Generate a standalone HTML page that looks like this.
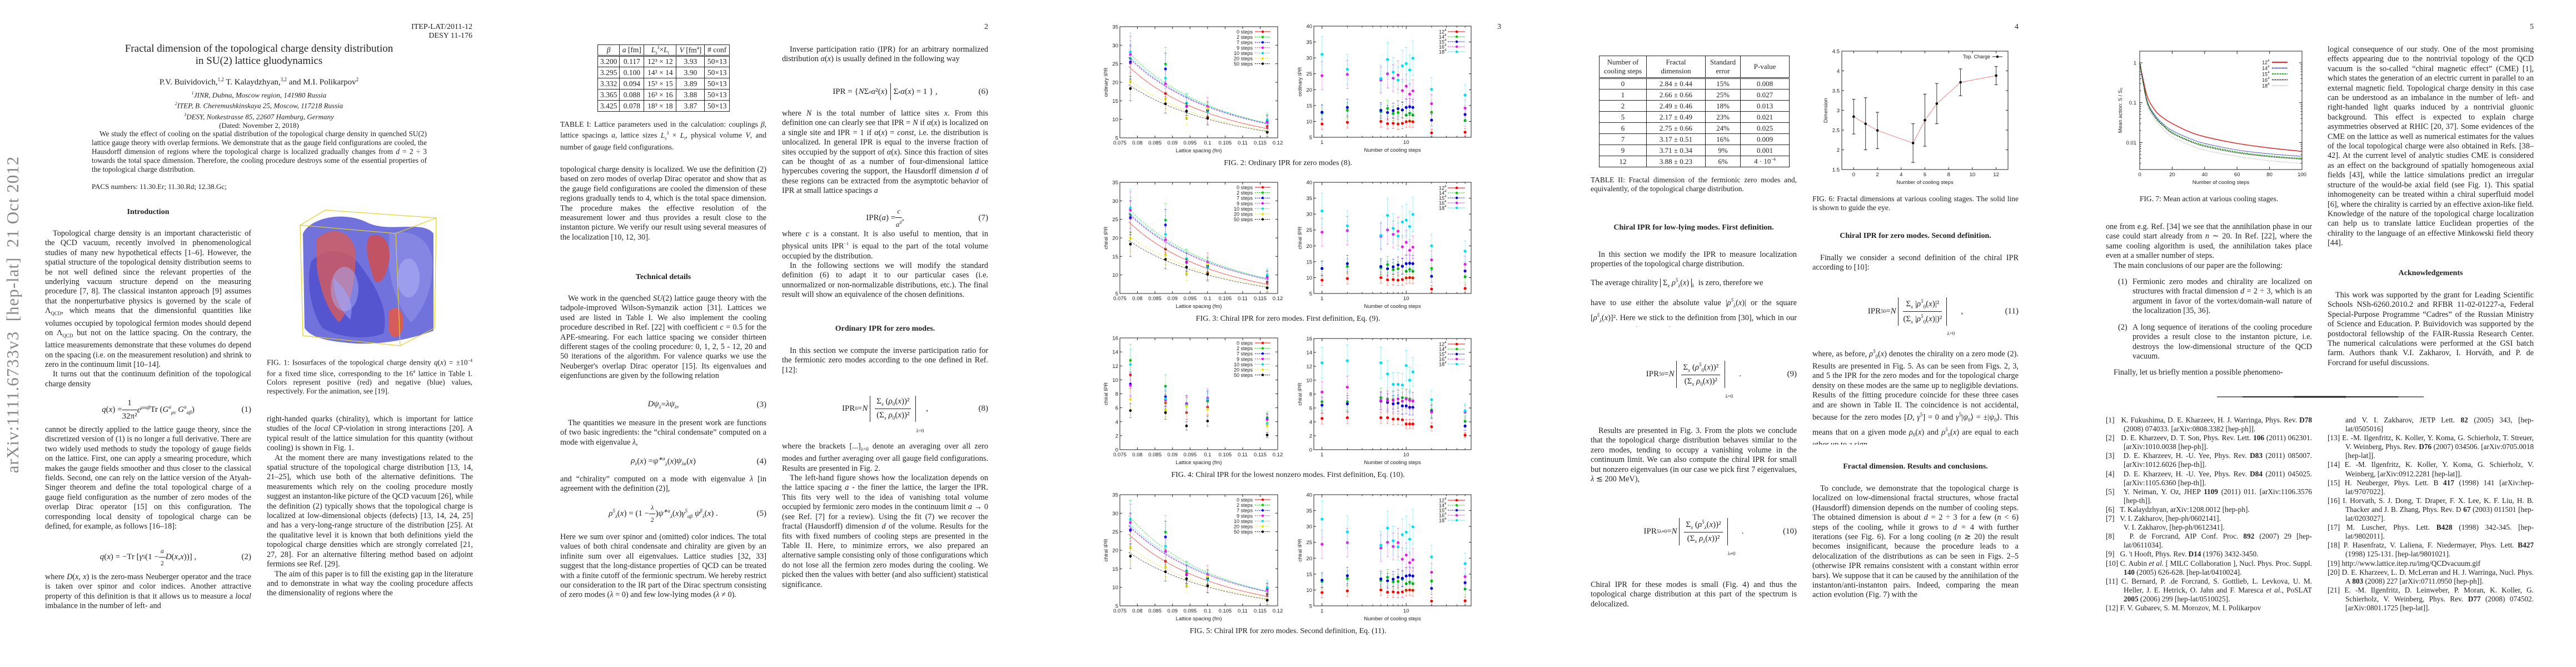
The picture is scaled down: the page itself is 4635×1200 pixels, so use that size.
<!DOCTYPE html>
<html><head><meta charset="utf-8">
<style>
html,body{margin:0;padding:0;background:#fff;}
body{width:4635px;height:1200px;position:relative;overflow:hidden;font-family:"Liberation Serif",serif;color:#222;}
.t{position:absolute;font-size:14.3px;line-height:17.4px;text-align:justify;overflow:hidden;}
.c{width:371px;}
.ind{text-indent:14px;margin:0;}
p{margin:0;}
.h{position:absolute;font-weight:bold;font-size:14px;text-align:center;width:371px;}
.cap{position:absolute;font-size:13.5px;line-height:16px;text-align:justify;}
.eq{position:absolute;width:371px;height:40px;font-size:15px;display:flex;align-items:center;justify-content:center;}
.eqn{position:absolute;right:0;}
.br{border-left:1.5px solid #222;border-right:1.5px solid #222;padding:2px 8px;display:inline-block;text-align:center;position:relative;}
.fr{display:inline-block;text-align:center;vertical-align:middle;}
.fr .n{border-bottom:1px solid #222;padding:0 3px 3px;}
.fr .d{padding-top:3px;}
table.tb{position:absolute;border-collapse:collapse;font-size:13.5px;}
table.tb td{border:1.3px solid #222;text-align:center;padding:0;}
.ref{position:absolute;font-size:13.3px;line-height:16.1px;width:371px;text-align:justify;}
.ref div{padding-left:32px;text-indent:-32px;}
</style></head><body>

<!-- ============== PAGE 1 ============== -->
<div style="position:absolute;left:23px;top:566px;width:0;height:0;">
<div style="position:absolute;left:0;top:0;transform:translate(-50%,-50%) rotate(-90deg);white-space:nowrap;font-size:31px;color:#888;letter-spacing:1px;">arXiv:1111.6733v3&nbsp; [hep-lat]&nbsp; 21 Oct 2012</div></div>

<div style="position:absolute;left:700px;top:41px;width:150px;text-align:right;font-size:14px;line-height:16px;">ITEP-LAT/2011-12<br>DESY 11-176</div>
<div style="position:absolute;left:150px;top:77px;width:632px;text-align:center;font-size:19px;line-height:22px;">Fractal dimension of the topological charge density distribution<br>in SU(2) lattice gluodynamics</div>
<div style="position:absolute;left:150px;top:138px;width:632px;text-align:center;font-size:15px;">P.V. Buividovich,<sup style="font-size:9px">1,2</sup> T. Kalaydzhyan,<sup style="font-size:9px">3,2</sup> and M.I. Polikarpov<sup style="font-size:9px">2</sup></div>
<div style="position:absolute;left:150px;top:160px;width:632px;text-align:center;font-size:13px;line-height:16px;font-style:italic;"><sup style="font-size:8px">1</sup>JINR, Dubna, Moscow region, 141980 Russia<br><sup style="font-size:8px">2</sup>ITEP, B. Cheremushkinskaya 25, Moscow, 117218 Russia<br><sup style="font-size:8px">3</sup>DESY, Notkestrasse 85, 22607 Hamburg, Germany<br><span style="font-style:normal">(Dated: November 2, 2018)</span></div>
<div class="t" style="left:165px;top:233px;width:603px;font-size:13.3px;line-height:16px;"><p class="ind">We study the effect of cooling on the spatial distribution of the topological charge density in quenched SU(2) lattice gauge theory with overlap fermions. We demonstrate that as the gauge field configurations are cooled, the Hausdorff dimension of regions where the topological charge is localized gradually changes from <i>d</i> = 2 ÷ 3 towards the total space dimension. Therefore, the cooling procedure destroys some of the essential properties of the topological charge distribution.</p></div>
<div style="position:absolute;left:165px;top:328px;font-size:13px;">PACS numbers: 11.30.Er; 11.30.Rd; 12.38.Gc;</div>
<div class="h" style="left:81px;top:374px;">Introduction</div>

<div class="t c" style="left:81px;top:412px;height:297px;"><p class="ind">Topological charge density is an important characteristic of the QCD vacuum, recently involved in phenomenological studies of many new hypothetical effects [1–6]. However, the spatial structure of the topological density distribution seems to be not well defined since the relevant properties of the underlying vacuum structure depend on the measuring procedure [7, 8]. The classical instanton approach [9] assumes that the nonperturbative physics is governed by the scale of Λ<sub style="font-size:9px">QCD</sub>, which means that the dimensionful quantities like volumes occupied by topological fermion modes should depend on Λ<sub style="font-size:9px">QCD</sub> but not on the lattice spacing. On the contrary, the lattice measurements demonstrate that these volumes do depend on the spacing (i.e. on the measurement resolution) and shrink to zero in the continuum limit [10–14].</p><p class="ind">It turns out that the continuum definition of the topological charge density</p></div>
<div class="eq" style="left:81px;top:717px;"><i>q</i>(<i>x</i>) = <span class="fr"><div class="n">1</div><div class="d">32π²</div></span><i>ε<sup style="font-size:9px">μναβ</sup></i> Tr (<i>G<sup style="font-size:9px">a</sup><sub style="font-size:9px">μν</sub> G<sup style="font-size:9px">a</sup><sub style="font-size:9px">αβ</sub></i>)<span class="eqn">(1)</span></div>
<div class="t c" style="left:81px;top:765px;height:210px;"><p>cannot be directly applied to the lattice gauge theory, since the discretized version of (1) is no longer a full derivative. There are two widely used methods to study the topology of gauge fields on the lattice. First, one can apply a smearing procedure, which makes the gauge fields smoother and thus closer to the classical fields. Second, one can rely on the lattice version of the Atyah-Singer theorem and define the total topological charge of a gauge field configuration as the number of zero modes of the overlap Dirac operator [15] on this configuration. The corresponding local density of topological charge can be defined, for example, as follows [16–18]:</p></div>
<div class="eq" style="left:81px;top:982px;"><i>q</i>(<i>x</i>) = −Tr [<i>γ</i><sub style="font-size:9px">5</sub> (1 − <span class="fr" style="font-size:12px"><div class="n"><i>a</i></div><div class="d">2</div></span><i>D</i>(<i>x</i>, <i>x</i>))] ,<span class="eqn">(2)</span></div>
<div class="t c" style="left:81px;top:1030px;height:70px;"><p>where <i>D</i>(<i>x</i>, <i>x</i>) is the zero-mass Neuberger operator and the trace is taken over spinor and color indices. Another attractive property of this definition is that it allows us to measure a <i>local</i> imbalance in the number of left- and</p></div>

<svg style="position:absolute;left:530px;top:365px;" width="265" height="262" viewBox="530 365 265 262">
<g opacity="0.85">
<path d="M545 420 C560 390 620 380 660 400 C700 420 760 395 780 420 L780 595 C740 610 690 620 640 618 C600 615 560 610 548 590 Z" fill="#5a5ad8"/>
<path d="M560 470 C590 440 630 450 650 480 C680 520 700 560 690 600 C660 612 610 608 580 590 C560 560 550 510 560 470Z" fill="#3838c8"/>
<path d="M700 420 C740 410 775 430 778 470 C780 520 760 560 740 580 C720 560 705 520 700 480Z" fill="#7070e0"/>
<path d="M570 430 C600 400 640 420 640 460 C640 500 630 560 610 580 C590 560 575 520 570 480Z" fill="#d04040" opacity="0.8"/>
<path d="M665 425 C690 415 705 440 700 470 C695 500 680 520 672 500 C662 470 655 440 665 425Z" fill="#c83030" opacity="0.85"/>
<path d="M700 560 C715 545 730 560 725 590 C720 610 705 612 700 595Z" fill="#d04040"/>
<path d="M600 500 C620 520 640 540 630 575 C615 560 600 540 600 500Z" fill="#8080ee" opacity="0.7"/>
<ellipse cx="620" cy="520" rx="25" ry="40" fill="#a0a0f0" opacity="0.5"/>
<ellipse cx="735" cy="500" rx="20" ry="35" fill="#a8a8f4" opacity="0.5"/>
</g>
<path d="M540 405 L585 378 L785 392 L782 590 L720 622 L545 604 Z M540 405 L712 420 L785 392 M712 420 L720 622" fill="none" stroke="#e0d020" stroke-width="1.2"/>
</svg>
<div class="cap" style="left:480px;top:641px;width:370px;">FIG. 1: Isosurfaces of the topological charge density <i>q</i>(<i>x</i>) = ±10<sup style="font-size:8px">−4</sup> for a fixed time slice, corresponding to the 16<sup style="font-size:8px">4</sup> lattice in Table I. Colors represent positive (red) and negative (blue) values, respectively. For the animation, see [19].</div>
<div class="t c" style="left:480px;top:746px;height:354px;"><p>right-handed quarks (chirality), which is important for lattice studies of the <i>local</i> CP-violation in strong interactions [20]. A typical result of the lattice simulation for this quantity (without cooling) is shown in Fig. 1.</p><p class="ind">At the moment there are many investigations related to the spatial structure of the topological charge distribution [13, 14, 21–25], which use both of the alternative definitions. The measurements which rely on the cooling procedure mostly suggest an instanton-like picture of the QCD vacuum [26], while the definition (2) typically shows that the topological charge is localized at low-dimensional objects (defects) [13, 14, 24, 25] and has a very-long-range structure of the distribution [25]. At the qualitative level it is known that both definitions yield the topological charge densities which are strongly correlated [21, 27, 28]. For an alternative filtering method based on adjoint fermions see Ref. [29].</p><p class="ind">The aim of this paper is to fill the existing gap in the literature and to demonstrate in what way the cooling procedure affects the dimensionality of regions where the</p></div>

<!-- ============== PAGE 2 ============== -->
<div style="position:absolute;left:1760px;top:41px;width:18px;text-align:right;font-size:14px;">2</div>
<table class="tb" style="left:1075px;top:80px;width:238px;">
<tr style="height:20px;border-bottom:3px double #222"><td><i>β</i></td><td><i>a</i> [fm]</td><td><i>L<sub style="font-size:8px">s</sub></i><sup style="font-size:8px">3</sup>×<i>L<sub style="font-size:8px">t</sub></i></td><td><i>V</i> [fm<sup style="font-size:8px">4</sup>]</td><td># conf</td></tr>
<tr style="height:20px"><td>3.200</td><td>0.117</td><td>12³ × 12</td><td>3.93</td><td>50×13</td></tr>
<tr style="height:20px"><td>3.295</td><td>0.100</td><td>14³ × 14</td><td>3.90</td><td>50×13</td></tr>
<tr style="height:20px"><td>3.332</td><td>0.094</td><td>15³ × 15</td><td>3.89</td><td>50×13</td></tr>
<tr style="height:20px"><td>3.365</td><td>0.088</td><td>16³ × 16</td><td>3.88</td><td>50×13</td></tr>
<tr style="height:20px"><td>3.425</td><td>0.078</td><td>18³ × 18</td><td>3.87</td><td>50×13</td></tr>
</table>
<div class="cap" style="left:1008px;top:216px;width:371px;">TABLE I: Lattice parameters used in the calculation: couplings <i>β</i>, lattice spacings <i>a</i>, lattice sizes <i>L<sub style="font-size:8px">s</sub></i><sup style="font-size:8px">3</sup> × <i>L<sub style="font-size:8px">t</sub></i>, physical volume <i>V</i>, and number of gauge field configurations.</div>
<div class="t c" style="left:1008px;top:297px;height:160px;"><p>topological charge density is localized. We use the definition (2) based on zero modes of overlap Dirac operator and show that as the gauge field configurations are cooled the dimension of these regions gradually tends to 4, which is the total space dimension. The procedure makes the effective resolution of the measurement lower and thus provides a result close to the instanton picture. We verify our result using several measures of the localization [10, 12, 30].</p></div>
<div class="h" style="left:1008px;top:491px;">Technical details</div>
<div class="t c" style="left:1008px;top:529px;height:176px;"><p class="ind">We work in the quenched <i>SU</i>(2) lattice gauge theory with the tadpole-improved Wilson-Symanzik action [31]. Lattices we used are listed in Table I. We also implement the cooling procedure described in Ref. [22] with coefficient <i>c</i> = 0.5 for the APE-smearing. For each lattice spacing we consider thirteen different stages of the cooling procedure: 0, 1, 2, 5 - 12, 20 and 50 iterations of the algorithm. For valence quarks we use the Neuberger's overlap Dirac operator [15]. Its eigenvalues and eigenfunctions are given by the following relation</p></div>
<div class="eq" style="left:1008px;top:708px;"><i>Dψ<sub style="font-size:9px">λ</sub></i> = <i>λψ<sub style="font-size:9px">λ</sub></i> ,<span class="eqn">(3)</span></div>
<div class="t c" style="left:1008px;top:753px;height:54px;"><p class="ind">The quantities we measure in the present work are functions of two basic ingredients: the “chiral condensate” computed on a mode with eigenvalue <i>λ</i>,</p></div>
<div class="eq" style="left:1008px;top:810px;"><i>ρ<sub style="font-size:9px">λ</sub></i>(<i>x</i>) = <i>ψ<sup style="font-size:9px">∗α</sup><sub style="font-size:9px">λ</sub></i>(<i>x</i>) <i>ψ<sub style="font-size:9px">λα</sub></i>(<i>x</i>)<span class="eqn">(4)</span></div>
<div class="t c" style="left:1008px;top:854px;height:36px;"><p>and “chirality” computed on a mode with eigenvalue <i>λ</i> [in agreement with the definition (2)],</p></div>
<div class="eq" style="left:1008px;top:904px;"><i>ρ<sup style="font-size:9px">5</sup><sub style="font-size:9px">λ</sub></i>(<i>x</i>) = (1 − <span class="fr" style="font-size:12px"><div class="n"><i>λ</i></div><div class="d">2</div></span>) <i>ψ<sup style="font-size:9px">∗α</sup><sub style="font-size:9px">λ</sub></i>(<i>x</i>)<i>γ<sup style="font-size:9px">5</sup><sub style="font-size:9px">αβ</sub> ψ<sup style="font-size:9px">β</sup><sub style="font-size:9px">λ</sub></i>(<i>x</i>) .<span class="eqn">(5)</span></div>
<div class="t c" style="left:1008px;top:958px;height:142px;"><p>Here we sum over spinor and (omitted) color indices. The total values of both chiral condensate and chirality are given by an infinite sum over all eigenvalues. Lattice studies [32, 33] suggest that the long-distance properties of QCD can be treated with a finite cutoff of the fermionic spectrum. We hereby restrict our consideration to the IR part of the Dirac spectrum consisting of zero modes (<i>λ</i> = 0) and few low-lying modes (<i>λ</i> ≠ 0).</p></div>

<div class="t c" style="left:1407px;top:81px;height:54px;"><p class="ind">Inverse participation ratio (IPR) for an arbitrary normalized distribution <i>α</i>(<i>x</i>) is usually defined in the following way</p></div>
<div class="eq" style="left:1407px;top:145px;">IPR = { <i>N</i> Σ<sub style="font-size:9px"><i>x</i></sub> <i>α</i>²(<i>x</i>) <span style="border-left:1px solid #222;height:30px;margin:0 5px"></span> Σ<sub style="font-size:9px"><i>x</i></sub> <i>α</i>(<i>x</i>) = 1 } ,<span class="eqn">(6)</span></div>
<div class="t c" style="left:1407px;top:196px;height:175px;"><p>where <i>N</i> is the total number of lattice sites <i>x</i>. From this definition one can clearly see that IPR = <i>N</i> if <i>α</i>(<i>x</i>) is localized on a single site and IPR = 1 if <i>α</i>(<i>x</i>) = <i>const</i>, i.e. the distribution is unlocalized. In general IPR is equal to the inverse fraction of sites occupied by the support of <i>α</i>(<i>x</i>). Since this fraction of sites can be thought of as a number of four-dimensional lattice hypercubes covering the support, the Hausdorff dimension <i>d</i> of these regions can be extracted from the asymptotic behavior of IPR at small lattice spacings <i>a</i></p></div>
<div class="eq" style="left:1407px;top:372px;">IPR(<i>a</i>) = <span class="fr" style="font-size:13px"><div class="n"><i>c</i></div><div class="d"><i>a<sup style="font-size:8px">d</sup></i></div></span> ,<span class="eqn">(7)</span></div>
<div class="t c" style="left:1407px;top:413px;height:141px;"><p>where <i>c</i> is a constant. It is also useful to mention, that in physical units IPR<sup style="font-size:8px">−1</sup> is equal to the part of the total volume occupied by the distribution.</p><p class="ind">In the following sections we will modify the standard definition (6) to adapt it to our particular cases (i.e. unnormalized or non-normalizable distributions, etc.). The final result will show an equivalence of the chosen definitions.</p></div>
<div class="h" style="left:1407px;top:584px;">Ordinary IPR for zero modes.</div>
<div class="t c" style="left:1407px;top:623px;height:54px;"><p class="ind">In this section we compute the inverse participation ratio for the fermionic zero modes according to the one defined in Ref. [12]:</p></div>
<div class="eq" style="left:1407px;top:690px;height:90px;">IPR<sub style="font-size:9px">0</sub> = <i>N</i>&nbsp;<span class="br"><span class="fr"><div class="n">Σ<sub style="font-size:9px"><i>x</i></sub> (<i>ρ</i><sub style="font-size:9px">0</sub>(<i>x</i>))²</div><div class="d">(Σ<sub style="font-size:9px"><i>x</i></sub> <i>ρ</i><sub style="font-size:9px">0</sub>(<i>x</i>))²</div></span></span><sub style="font-size:9px;align-self:flex-end">λ=0</sub>&nbsp;,<span class="eqn">(8)</span></div>
<div class="t c" style="left:1407px;top:795px;height:290px;"><p>where the brackets [...]<sub style="font-size:9px">λ=0</sub> denote an averaging over all zero modes and further averaging over all gauge field configurations. Results are presented in Fig. 2.</p><p class="ind">The left-hand figure shows how the localization depends on the lattice spacing <i>a</i> - the finer the lattice, the larger the IPR. This fits very well to the idea of vanishing total volume occupied by fermionic zero modes in the continuum limit <i>a</i> → 0 (see Ref. [7] for a review). Using the fit (7) we recover the fractal (Hausdorff) dimension <i>d</i> of the volume. Results for the fits with fixed numbers of cooling steps are presented in the Table II. Here, to minimize errors, we also prepared an alternative sample consisting only of those configurations which do not lose all the fermion zero modes during the cooling. We picked then the values with better (and also sufficient) statistical significance.</p></div>

<!-- ============== PAGE 3 ============== -->
<div style="position:absolute;left:2683px;top:41px;width:18px;text-align:right;font-size:14px;">3</div>
<div class="cap" style="left:1954px;top:286px;width:727px;text-align:center;font-size:14px;">FIG. 2: Ordinary IPR for zero modes (8).</div>
<div class="cap" style="left:1954px;top:566px;width:727px;text-align:center;font-size:14px;">FIG. 3: Chiral IPR for zero modes. First definition, Eq. (9).</div>
<div class="cap" style="left:1954px;top:847px;width:727px;text-align:center;font-size:14px;">FIG. 4: Chiral IPR for the lowest nonzero modes. First definition, Eq. (10).</div>
<div class="cap" style="left:1954px;top:1128px;width:727px;text-align:center;font-size:14px;">FIG. 5: Chiral IPR for zero modes. Second definition, Eq. (11).</div>

<!-- ============== PAGE 4 ============== -->
<div style="position:absolute;left:3614px;top:41px;width:18px;text-align:right;font-size:14px;">4</div>
<table class="tb" style="left:2877px;top:100px;width:343px;font-size:13px;">
<tr style="height:40px;border-bottom:3px double #222"><td style="width:84px;line-height:16px">Number of<br>cooling steps</td><td style="width:105px;line-height:16px">Fractal<br>dimension</td><td style="width:62px;line-height:16px">Standard<br>error</td><td>P-value</td></tr>
<tr style="height:20px"><td>0</td><td>2.84 ± 0.44</td><td>15%</td><td>0.008</td></tr>
<tr style="height:20px"><td>1</td><td>2.66 ± 0.66</td><td>25%</td><td>0.027</td></tr>
<tr style="height:20px"><td>2</td><td>2.49 ± 0.46</td><td>18%</td><td>0.013</td></tr>
<tr style="height:20px"><td>5</td><td>2.17 ± 0.49</td><td>23%</td><td>0.021</td></tr>
<tr style="height:20px"><td>6</td><td>2.75 ± 0.66</td><td>24%</td><td>0.025</td></tr>
<tr style="height:20px"><td>7</td><td>3.17 ± 0.51</td><td>16%</td><td>0.009</td></tr>
<tr style="height:20px"><td>9</td><td>3.71 ± 0.34</td><td>9%</td><td>0.001</td></tr>
<tr style="height:20px"><td>12</td><td>3.88 ± 0.23</td><td>6%</td><td>4 · 10<sup style="font-size:8px">−4</sup></td></tr>
</table>
<div class="cap" style="left:2862px;top:316px;width:371px;">TABLE II: Fractal dimension of the fermionic zero modes and, equivalently, of the topological charge distribution.</div>
<div class="h" style="left:2862px;top:402px;">Chiral IPR for low-lying modes. First definition.</div>
<div class="t c" style="left:2862px;top:450px;height:36px;"><p class="ind">In this section we modify the IPR to measure localization properties of the topological charge distribution.</p></div>
<div class="t c" style="left:2862px;top:496px;height:24px;"><p>The average chirality <span style="border:1px solid #222;border-top:none;border-bottom:none;padding:0 4px;">Σ<sub style="font-size:9px"><i>x</i></sub> <i>ρ<sup style="font-size:9px">5</sup><sub style="font-size:9px">λ</sub></i>(<i>x</i>)</span><sub style="font-size:9px">λ</sub> &nbsp;is zero, therefore we</p></div>
<div class="t c" style="left:2862px;top:532px;height:56px;"><p>have to use either the absolute value |<i>ρ<sup style="font-size:9px">5</sup><sub style="font-size:9px">λ</sub></i>(<i>x</i>)| or the square [<i>ρ<sup style="font-size:9px">5</sup><sub style="font-size:9px">λ</sub></i>(<i>x</i>)]². Here we stick to the definition from [30], which in our terms has the following form</p></div>
<div class="eq" style="left:2862px;top:628px;height:90px;">IPR<sup style="font-size:9px">5</sup><sub style="font-size:9px">0</sub> = <i>N</i>&nbsp;<span class="br"><span class="fr"><div class="n">Σ<sub style="font-size:9px"><i>x</i></sub> (<i>ρ<sup style="font-size:9px">5</sup></i><sub style="font-size:9px">0</sub>(<i>x</i>))²</div><div class="d">(Σ<sub style="font-size:9px"><i>x</i></sub> <i>ρ</i><sub style="font-size:9px">0</sub>(<i>x</i>))²</div></span></span><sub style="font-size:9px;align-self:flex-end">λ=0</sub>&nbsp;&nbsp;&nbsp;.<span class="eqn">(9)</span></div>
<div class="t c" style="left:2862px;top:767px;height:106px;"><p class="ind">Results are presented in Fig. 3. From the plots we conclude that the topological charge distribution behaves similar to the zero modes, tending to occupy a vanishing volume in the continuum limit. We can also compute the chiral IPR for small but nonzero eigenvalues (in our case we pick first 7 eigenvalues, <i>λ</i> ≲ 200 MeV),</p></div>
<div class="eq" style="left:2862px;top:911px;height:90px;">IPR<sup style="font-size:9px">5</sup><sub style="font-size:9px">λ≠0</sub> = <i>N</i>&nbsp;<span class="br"><span class="fr"><div class="n">Σ<sub style="font-size:9px"><i>x</i></sub> (<i>ρ<sup style="font-size:9px">5</sup><sub style="font-size:9px">λ</sub></i>(<i>x</i>))²</div><div class="d">(Σ<sub style="font-size:9px"><i>x</i></sub> <i>ρ<sub style="font-size:9px">λ</sub></i>(<i>x</i>))²</div></span></span><sub style="font-size:9px;align-self:flex-end">λ≠0</sub>&nbsp;&nbsp;&nbsp;.<span class="eqn">(10)</span></div>
<div class="t c" style="left:2862px;top:1044px;height:54px;"><p>Chiral IPR for these modes is small (Fig. 4) and thus the topological charge distribution at this part of the spectrum is delocalized.</p></div>

<div class="cap" style="left:3261px;top:350px;width:371px;">FIG. 6: Fractal dimensions at various cooling stages. The solid line is shown to guide the eye.</div>
<div class="h" style="left:3261px;top:417px;">Chiral IPR for zero modes. Second definition.</div>
<div class="t c" style="left:3261px;top:456px;height:36px;"><p class="ind">Finally we consider a second definition of the chiral IPR according to [10]:</p></div>
<div class="eq" style="left:3261px;top:515px;height:90px;">IPR<sup style="font-size:9px">5</sup><sub style="font-size:9px">0</sub> = <i>N</i>&nbsp;<span class="br"><span class="fr"><div class="n">Σ<sub style="font-size:9px"><i>x</i></sub> |<i>ρ<sup style="font-size:9px">5</sup></i><sub style="font-size:9px">0</sub>(<i>x</i>)|²</div><div class="d">(Σ<sub style="font-size:9px"><i>x</i></sub> |<i>ρ<sup style="font-size:9px">5</sup></i><sub style="font-size:9px">0</sub>(<i>x</i>)|)²</div></span></span><sub style="font-size:9px;align-self:flex-end">λ=0</sub>&nbsp;&nbsp;&nbsp;,<span class="eqn">(11)</span></div>
<div class="t c" style="left:3261px;top:624px;height:176px;"><p>where, as before, <i>ρ<sup style="font-size:9px">5</sup></i><sub style="font-size:9px">0</sub>(<i>x</i>) denotes the chirality on a zero mode (2). Results are presented in Fig. 5. As can be seen from Figs. 2, 3, and 5 the IPR for the zero modes and for the topological charge density on these modes are the same up to negligible deviations. Results of the fitting procedure coincide for these three cases and are shown in Table II. The coincidence is not accidental, because for the zero modes [<i>D</i>, <i>γ</i><sup style="font-size:9px">5</sup>] = 0 and <i>γ</i><sup style="font-size:9px">5</sup>|<i>ψ</i><sub style="font-size:9px">0</sub>⟩ = ±|<i>ψ</i><sub style="font-size:9px">0</sub>⟩. This means that on a given mode <i>ρ</i><sub style="font-size:9px">0</sub>(<i>x</i>) and <i>ρ<sup style="font-size:9px">5</sup></i><sub style="font-size:9px">0</sub>(<i>x</i>) are equal to each other up to a sign.</p></div>
<div class="h" style="left:3261px;top:832px;">Fractal dimension. Results and conclusions.</div>
<div class="t c" style="left:3261px;top:871px;height:229px;"><p class="ind">To conclude, we demonstrate that the topological charge is localized on low-dimensional fractal structures, whose fractal (Hausdorff) dimension depends on the number of cooling steps. The obtained dimension is about <i>d</i> = 2 ÷ 3 for a few (<i>n</i> &lt; 6) steps of the cooling, while it grows to <i>d</i> = 4 with further iterations (see Fig. 6). For a long cooling (<i>n</i> ≳ 20) the result becomes insignificant, because the procedure leads to a delocalization of the distributions as can be seen in Figs. 2–5 (otherwise IPR remains consistent with a constant within error bars). We suppose that it can be caused by the annihilation of the instanton/anti-instanton pairs. Indeed, comparing the mean action evolution (Fig. 7) with the</p></div>

<!-- ============== PAGE 5 ============== -->
<div style="position:absolute;left:4541px;top:41px;width:18px;text-align:right;font-size:14px;">5</div>
<div class="cap" style="left:3789px;top:350px;width:371px;text-align:center;">FIG. 7: Mean action at various cooling stages.</div>
<div class="t c" style="left:3789px;top:400px;height:90px;"><p>one from e.g. Ref. [34] we see that the annihilation phase in our case could start already from <i>n</i> ∼ 20. In Ref. [22], where the same cooling algorithm is used, the annihilation takes place even at a smaller number of steps.</p><p class="ind">The main conclusions of our paper are the following:</p></div>
<div class="t" style="left:3811px;top:499px;width:349px;height:72px;"><p><span style="position:absolute;left:0">(1)</span><span style="display:block;padding-left:26px">Fermionic zero modes and chirality are localized on structures with fractal dimension <i>d</i> = 2 ÷ 3, which is an argument in favor of the vortex/domain-wall nature of the localization [35, 36].</span></p></div>
<div class="t" style="left:3811px;top:581px;width:349px;height:72px;"><p><span style="position:absolute;left:0">(2)</span><span style="display:block;padding-left:26px">A long sequence of iterations of the cooling procedure provides a result close to the instanton picture, i.e. destroys the low-dimensional structure of the QCD vacuum.</span></p></div>
<div class="t c" style="left:3789px;top:662px;height:18px;"><p class="ind">Finally, let us briefly mention a possible phenomeno-</p></div>
<div class="t c" style="left:4188px;top:81px;height:386px;"><p>logical consequence of our study. One of the most promising effects appearing due to the nontrivial topology of the QCD vacuum is the so-called “chiral magnetic effect” (CME) [1], which states the generation of an electric current in parallel to an external magnetic field. Topological charge density in this case can be understood as an imbalance in the number of left- and right-handed light quarks induced by a nontrivial gluonic background. This effect is expected to explain charge asymmetries observed at RHIC [20, 37]. Some evidences of the CME on the lattice as well as numerical estimates for the values of the local topological charge were also obtained in Refs. [38–42]. At the current level of analytic studies CME is considered as an effect on the background of spatially homogeneous axial fields [43], while the lattice simulations predict an irregular structure of the would-be axial field (see Fig. 1). This spatial inhomogeneity can be treated within a chiral superfluid model [6], where the chirality is carried by an effective axion-like field. Knowledge of the nature of the topological charge localization can help us to translate lattice Euclidean properties of the chirality to the language of an effective Minkowski field theory [44].</p></div>
<div class="h" style="left:4188px;top:484px;">Acknowledgements</div>
<div class="t c" style="left:4188px;top:523px;height:160px;"><p class="ind">This work was supported by the grant for Leading Scientific Schools NSh-6260.2010.2 and RFBR 11-02-01227-a, Federal Special-Purpose Programme “Cadres” of the Russian Ministry of Science and Education. P. Buividovich was supported by the postdoctoral fellowship of the FAIR-Russia Research Center. The numerical calculations were performed at the GSI batch farm. Authors thank V.I. Zakharov, I. Horváth, and P. de Forcrand for useful discussions.</p></div>
<svg style="position:absolute;left:3989px;top:711px;" width="373" height="6"><line x1="0" y1="3" x2="372" y2="3" stroke="#222" stroke-width="1.2"/><line x1="46" y1="3" x2="326" y2="3" stroke="#222" stroke-width="2"/><line x1="138" y1="3" x2="232" y2="3" stroke="#222" stroke-width="3"/></svg>
<div class="ref" style="left:3789px;top:748px;">
<div>[1]&nbsp;&nbsp; K. Fukushima, D. E. Kharzeev, H. J. Warringa, Phys. Rev. <b>D78</b> (2008) 074033. [arXiv:0808.3382 [hep-ph]].</div>
<div>[2]&nbsp;&nbsp; D. E. Kharzeev, D. T. Son, Phys. Rev. Lett. <b>106</b> (2011) 062301. [arXiv:1010.0038 [hep-ph]].</div>
<div>[3]&nbsp;&nbsp; D. E. Kharzeev, H. -U. Yee, Phys. Rev. <b>D83</b> (2011) 085007. [arXiv:1012.6026 [hep-th]].</div>
<div>[4]&nbsp;&nbsp; D. E. Kharzeev, H. -U. Yee, Phys. Rev. <b>D84</b> (2011) 045025. [arXiv:1105.6360 [hep-th]].</div>
<div>[5]&nbsp;&nbsp; Y. Neiman, Y. Oz, JHEP <b>1109</b> (2011) 011. [arXiv:1106.3576 [hep-th]].</div>
<div>[6]&nbsp;&nbsp; T. Kalaydzhyan, arXiv:1208.0012 [hep-ph].</div>
<div>[7]&nbsp;&nbsp; V. I. Zakharov, [hep-ph/0602141].<br>V. I. Zakharov, [hep-ph/0612341].</div>
<div>[8]&nbsp;&nbsp; P. de Forcrand, AIP Conf. Proc. <b>892</b> (2007) 29 [hep-lat/0611034].</div>
<div>[9]&nbsp;&nbsp; G. 't Hooft, Phys. Rev. <b>D14</b> (1976) 3432-3450.</div>
<div>[10] C. Aubin <i>et al.</i> [ MILC Collaboration ], Nucl. Phys. Proc. Suppl. <b>140</b> (2005) 626-628. [hep-lat/0410024].</div>
<div>[11] C. Bernard, P. .de Forcrand, S. Gottlieb, L. Levkova, U. M. Heller, J. E. Hetrick, O. Jahn and F. Maresca <i>et al.</i>, PoSLAT <b>2005</b> (2006) 299 [hep-lat/0510025].</div>
<div>[12] F. V. Gubarev, S. M. Morozov, M. I. Polikarpov</div>
</div>
<div class="ref" style="left:4188px;top:748px;">
<div style="padding-left:32px;text-indent:0">and V. I. Zakharov, JETP Lett. <b>82</b> (2005) 343, [hep-lat/0505016]</div>
<div>[13] E. -M. Ilgenfritz, K. Koller, Y. Koma, G. Schierholz, T. Streuer, V. Weinberg, Phys. Rev. <b>D76</b> (2007) 034506. [arXiv:0705.0018 [hep-lat]].</div>
<div>[14] E. -M. Ilgenfritz, K. Koller, Y. Koma, G. Schierholz, V. Weinberg, [arXiv:0912.2281 [hep-lat]].</div>
<div>[15] H. Neuberger, Phys. Lett. B <b>417</b> (1998) 141 [arXiv:hep-lat/9707022].</div>
<div>[16] I. Horvath, S. J. Dong, T. Draper, F. X. Lee, K. F. Liu, H. B. Thacker and J. B. Zhang, Phys. Rev. D <b>67</b> (2003) 011501 [hep-lat/0203027].</div>
<div>[17] M. Luscher, Phys. Lett. <b>B428</b> (1998) 342-345. [hep-lat/9802011].</div>
<div>[18] P. Hasenfratz, V. Laliena, F. Niedermayer, Phys. Lett. <b>B427</b> (1998) 125-131. [hep-lat/9801021].</div>
<div>[19] http://www.lattice.itep.ru/img/QCDvacuum.gif</div>
<div>[20] D. E. Kharzeev, L. D. McLerran and H. J. Warringa, Nucl. Phys. A <b>803</b> (2008) 227 [arXiv:0711.0950 [hep-ph]].</div>
<div>[21] E. -M. Ilgenfritz, D. Leinweber, P. Moran, K. Koller, G. Schierholz, V. Weinberg, Phys. Rev. <b>D77</b> (2008) 074502. [arXiv:0801.1725 [hep-lat]].</div>
</div>

<svg id="charts" style="position:absolute;left:0;top:0;pointer-events:none;" width="4635" height="1200" viewBox="0 0 4635 1200" font-family="Liberation Sans, sans-serif"></svg>

<script>
// ---------- chart data ----------
const latticeSpacing = [0.078, 0.088, 0.094, 0.100, 0.117];
const stepLabels = ['0 steps','2 steps','7 steps','9 steps','10 steps','20 steps','50 steps'];
const fig2Values = [
  [25.2, 17.0, 13.5, 10.6, 8.1],
  [26.4, 24.9, 14.3, 12.5, 9.5],
  [25.5, 23.6, 13.5, 12.4, 9.4],
  [27.5, 19.6, 13.5, 13.5, 9.2],
  [28.2, 21.1, 14.4, 12.0, 9.9],
  [20.1, 15.5, 10.4, 12.9, 6.6],
  [18.3, 14.2, 12.2, 10.3, 6.5]];
const fig3Values = [
  [25.3, 17.0, 13.5, 10.6, 8.1],
  [26.2, 24.8, 14.3, 12.6, 9.6],
  [25.5, 23.5, 13.4, 12.4, 9.4],
  [27.5, 19.5, 13.5, 13.5, 9.3],
  [28.1, 21.0, 14.4, 12.0, 10.0],
  [19.9, 15.5, 10.4, 12.9, 6.6],
  [18.3, 14.2, 12.1, 10.2, 6.5]];
const fig4Values = [
  [10.7, 6.7, 5.3, 6.1, 4.3],
  [12.8, 9.1, 6.3, 6.9, 4.6],
  [9.4, 7.6, 6.6, 7.1, 4.4],
  [9.2, 7.1, 6.5, 7.4, 4.3],
  [12.2, 7.3, 6.3, 7.2, 3.8],
  [7.2, 5.7, 6.2, 5.8, 3.4],
  [5.6, 5.3, 3.4, 4.1, 2.1]];
const fig5Values = [
  [25.3, 17.1, 13.6, 10.5, 8.2],
  [28.3, 24.9, 14.3, 12.6, 9.6],
  [25.5, 23.6, 13.4, 12.4, 9.4],
  [27.5, 19.7, 13.5, 13.5, 9.3],
  [28.4, 21.1, 14.5, 12.0, 10.0],
  [20.6, 15.5, 10.5, 12.9, 6.6],
  [18.4, 14.2, 12.3, 10.4, 6.5]];
const stepColors = ['#ff0000','#00d000','#0000ff','#ff00ff','#00e0e0','#e8e800','#000000'];

const coolingSteps = [1, 2, 5, 6, 7, 8, 9, 10, 11, 12, 20, 50];
const latticeLabels = ['12', '14', '15', '16', '18'];
const fig8Values = [
  [9.2, 9.7, 10.0, 9.3, 9.4, 9.2, 9.4, 9.9, 10.1, 9.9, 6.4, 6.6],
  [12.7, 13.5, 13.1, 14.1, 12.5, 12.8, 13.6, 12.0, 12.6, 12.0, 12.9, 10.3],
  [12.9, 14.4, 13.5, 12.8, 13.4, 14.0, 13.6, 14.4, 14.6, 14.4, 10.4, 12.2],
  [24.4, 24.8, 23.0, 25.0, 23.6, 24.6, 19.7, 21.1, 18.6, 19.6, 15.6, 14.2],
  [31.1, 26.4, 23.5, 29.5, 25.5, 23.0, 27.5, 28.2, 26.2, 29.9, 20.1, 18.3]];
const fig9Values = [
  [9.2, 9.7, 10.0, 9.3, 9.4, 9.2, 9.4, 9.9, 10.0, 9.9, 6.4, 6.6],
  [12.8, 13.5, 13.1, 14.1, 12.5, 12.8, 13.5, 12.0, 12.6, 12.0, 12.9, 10.3],
  [12.9, 14.4, 13.5, 12.8, 13.4, 14.0, 13.6, 14.4, 14.5, 14.4, 10.4, 12.1],
  [24.3, 24.8, 23.0, 25.0, 23.6, 24.6, 19.7, 21.1, 18.6, 19.6, 15.6, 14.2],
  [31.0, 26.3, 23.3, 29.6, 25.5, 23.1, 27.5, 28.1, 26.1, 29.9, 20.0, 18.3]];
const fig10Values = [
  [4.5, 4.6, 4.6, 4.6, 4.4, 4.4, 4.3, 3.7, 3.7, 3.7, 3.3, 2.1],
  [6.9, 6.9, 7.5, 7.3, 7.2, 7.3, 7.5, 7.4, 7.3, 7.0, 5.7, 4.1],
  [6.4, 6.6, 7.0, 6.8, 6.6, 6.7, 6.3, 6.3, 6.1, 6.1, 5.5, 3.4],
  [8.3, 9.0, 7.1, 7.1, 7.1, 7.3, 7.0, 7.3, 7.1, 7.0, 5.4, 5.4],
  [12.5, 12.8, 12.5, 10.9, 9.4, 9.4, 9.3, 12.1, 10.0, 11.2, 7.2, 5.6]];
const fig11Values = [
  [9.2, 9.7, 10.0, 9.3, 9.4, 9.2, 9.4, 9.9, 10.0, 9.9, 6.5, 6.6],
  [12.7, 13.6, 13.0, 14.0, 12.6, 12.7, 13.4, 12.0, 12.5, 12.0, 12.9, 10.3],
  [13.1, 14.5, 13.5, 12.9, 13.4, 14.0, 13.7, 14.4, 14.6, 14.4, 10.5, 12.3],
  [24.4, 24.9, 23.2, 25.0, 23.7, 24.9, 19.7, 21.0, 18.6, 19.5, 15.6, 14.2],
  [32.3, 28.3, 24.1, 29.5, 25.5, 23.6, 27.4, 28.2, 26.0, 29.9, 20.4, 18.3]];
const latticeColors = ['#ff0000','#00d000','#0000d0','#e020e0','#00e0f0'];

const fig6Steps = [0, 1, 2, 5, 6, 7, 9, 12];
const fig6Dimension = [2.84, 2.66, 2.49, 2.17, 2.75, 3.17, 3.71, 3.88];
const fig6Error = [0.44, 0.66, 0.46, 0.49, 0.66, 0.51, 0.34, 0.23];

const fig7Steps = [0, 2, 5, 10, 15, 20, 30, 40, 60, 80, 100];
const fig7Action12 = [1, 0.40, 0.13, 0.060, 0.040, 0.030, 0.019, 0.014, 0.0095, 0.0073, 0.0060];
const fig7Action14 = [1, 0.35, 0.10, 0.045, 0.028, 0.020, 0.013, 0.0095, 0.0065, 0.0052, 0.0045];
const fig7Action15 = [1, 0.34, 0.095, 0.042, 0.026, 0.018, 0.0115, 0.0085, 0.0058, 0.0046, 0.0040];
const fig7Action16 = [1, 0.33, 0.090, 0.040, 0.025, 0.017, 0.011, 0.0080, 0.0055, 0.0044, 0.0038];
const fig7Action18 = [1, 0.30, 0.080, 0.035, 0.021, 0.014, 0.0090, 0.0065, 0.0045, 0.0035, 0.0030];

// ---------- drawing helpers ----------
const svg = document.getElementById('charts');
const NS = 'http://www.w3.org/2000/svg';
function mk(tag, attrs, parent) {
  const e = document.createElementNS(NS, tag);
  for (const k in attrs) e.setAttribute(k, attrs[k]);
  (parent || svg).appendChild(e);
  return e;
}
function txt(x, y, s, parent, extra) {
  const e = mk('text', Object.assign({x: x, y: y, 'font-size': 9.5, fill: '#222'}, extra || {}), parent);
  e.textContent = s;
  return e;
}
function frame(g, x0, y0, x1, y1) {
  const r = mk('rect', {x: x0, y: y0, width: x1 - x0, height: y1 - y0, fill: 'none', stroke: '#222', 'stroke-width': 1}, g);
  
  
}
function yAxisLin(g, x0, x1, y0, y1, ymin, ymax, step, label) {
  const sy = v => y1 - (v - ymin) / (ymax - ymin) * (y1 - y0);
  for (let v = ymin; v <= ymax + 1e-9; v += step) {
    const y = sy(v);
    mk('line', {x1: x0, y1: y, x2: x0 + 4, y2: y, stroke: '#222'}, g);
    mk('line', {x1: x1, y1: y, x2: x1 - 4, y2: y, stroke: '#222'}, g);
    const t = txt(x0 - 3, y + 3.5, String(v), g, {'text-anchor': 'end'});
    
    
  }
  const yl = txt(0, 0, label, g, {'text-anchor': 'middle', transform: 'translate(' + (x0 - 22) + ',' + ((y0 + y1) / 2) + ') rotate(-90)'});
  
  
  return sy;
}
function errBar(g, x, y1, y2, color, cap) {
  mk('line', {x1: x, y1: y1, x2: x, y2: y2, stroke: color, 'stroke-width': 0.8, 'stroke-dasharray': '2,1.5', opacity: 0.6}, g);
  mk('line', {x1: x - cap, y1: y1, x2: x + cap, y2: y1, stroke: color, 'stroke-width': 0.8, opacity: 0.6}, g);
  mk('line', {x1: x - cap, y1: y2, x2: x + cap, y2: y2, stroke: color, 'stroke-width': 0.8, opacity: 0.6}, g);
}

// Figs 2-5: IPR vs lattice spacing
function latticeFig(name, x0, y0, x1, y1, values, ymin, ymax, ystep, ylabel, withFit) {
  const g = mk('g', {});
  
  
  const xmin = 0.075, xmax = 0.12;
  const sx = v => x0 + (v - xmin) / (xmax - xmin) * (x1 - x0);
  const sy = yAxisLin(g, x0, x1, y0, y1, ymin, ymax, ystep, ylabel);
  const xt = ['0.075','0.08','0.085','0.09','0.095','0.1','0.105','0.11','0.115','0.12'];
  xt.forEach(s => {
    const x = sx(parseFloat(s));
    mk('line', {x1: x, y1: y1, x2: x, y2: y1 - 4, stroke: '#222'}, g);
    mk('line', {x1: x, y1: y0, x2: x, y2: y0 + 4, stroke: '#222'}, g);
    const t = txt(x, y1 + 12, s, g, {'text-anchor': 'middle'});
    
    
  });
  const xl = txt((x0 + x1) / 2, y1 + 26, 'Lattice spacing (fm)', g, {'text-anchor': 'middle'});
  
  
  values.forEach((series, si) => {
    const col = stepColors[si];
    const sg = mk('g', {}, g);
    
    
    if (withFit) {
      // least-squares fit of log(IPR) = log(c) - d log(a)
      let n = series.length, sxl = 0, syl = 0, sxx = 0, sxy = 0;
      series.forEach((v, i) => { const lx = Math.log(latticeSpacing[i]), ly = Math.log(v); sxl += lx; syl += ly; sxx += lx * lx; sxy += lx * ly; });
      const slope = (n * sxy - sxl * syl) / (n * sxx - sxl * sxl);
      const icpt = (syl - slope * sxl) / n;
      let d = '';
      for (let k = 0; k <= 30; k++) {
        const a = 0.0775 + k * (0.1175 - 0.0775) / 30;
        const v = Math.exp(icpt + slope * Math.log(a));
        d += (k ? 'L' : 'M') + sx(a).toFixed(1) + ' ' + sy(v).toFixed(1);
      }
      const p = mk('path', {d: d, fill: 'none', stroke: col, 'stroke-width': 0.9, 'stroke-dasharray': si ? '3,2' : 'none', opacity: 0.7}, sg);
      
      
    }
    series.forEach((v, i) => {
      const x = sx(latticeSpacing[i]), y = sy(v);
      errBar(sg, x, sy(v * 1.18), sy(v * 0.82), col, 2);
      const c = mk('circle', {cx: x, cy: y, r: 2.4, fill: col}, sg);
      
      
    });
    const ly = y0 + 9 + si * 9.6;
    const lt = txt(x1 - 45, ly + 3.5, stepLabels[si], g, {'text-anchor': 'end', 'font-size': 9});
    
    
    mk('line', {x1: x1 - 41, y1: ly, x2: x1 - 13, y2: ly, stroke: col, 'stroke-dasharray': si ? '2,1.5' : 'none'}, g);
    mk('circle', {cx: x1 - 27, cy: ly, r: 2.2, fill: col}, g);
  });
  frame(g, x0, y0, x1, y1);
}

// Figs 8-11: IPR vs cooling steps (log x)
function coolingFig(name, x0, y0, x1, y1, values, ymin, ymax, ystep, ylabel) {
  const g = mk('g', {});
  
  
  const lmin = Math.log10(0.8), lmax = Math.log10(59);
  const sx = v => x0 + (Math.log10(v) - lmin) / (lmax - lmin) * (x1 - x0);
  const sy = yAxisLin(g, x0, x1, y0, y1, ymin, ymax, ystep, ylabel);
  [1,2,3,4,5,6,7,8,9,10,20,30,40,50].forEach(v => {
    const x = sx(v), len = (v === 1 || v === 10) ? 5 : 2.5;
    mk('line', {x1: x, y1: y1, x2: x, y2: y1 - len, stroke: '#222'}, g);
    mk('line', {x1: x, y1: y0, x2: x, y2: y0 + len, stroke: '#222'}, g);
    if (v === 1 || v === 10) {
      const t = txt(x, y1 + 12, String(v), g, {'text-anchor': 'middle'});
      
      
    }
  });
  const xl = txt((x0 + x1) / 2, y1 + 26, 'Number of cooling steps', g, {'text-anchor': 'middle'});
  
  
  values.forEach((series, si) => {
    const col = latticeColors[si];
    const sg = mk('g', {}, g);
    
    
    series.forEach((v, i) => {
      const x = sx(coolingSteps[i]), y = sy(v);
      errBar(sg, x, sy(v * 1.18), sy(v * 0.82), col, 2);
      const c = mk('circle', {cx: x, cy: y, r: 2.6, fill: col}, sg);
      
      
    });
    const ly = y0 + 10 + si * 9;
    const lt = txt(x1 - 48, ly + 3.5, latticeLabels[si], g, {'text-anchor': 'end', 'font-size': 9});
    
    
    txt(x1 - 48, ly - 1, '4', g, {'font-size': 6});
    mk('line', {x1: x1 - 42, y1: ly, x2: x1 - 11, y2: ly, stroke: col, 'stroke-dasharray': si ? '2,1.5' : 'none'}, g);
    mk('circle', {cx: x1 - 26, cy: ly, r: 2.3, fill: col}, g);
  });
  frame(g, x0, y0, x1, y1);
}

latticeFig('figure-2-ordinary-ipr-vs-spacing', 2015, 48, 2299, 248, fig2Values, 5, 35, 5, 'ordinary IPR', true);
latticeFig('figure-3-chiral-ipr-vs-spacing', 2015, 328, 2299, 528, fig3Values, 5, 35, 5, 'chiral IPR', true);
latticeFig('figure-4-chiral-ipr-nonzero-vs-spacing', 2015, 608, 2299, 809, fig4Values, 0, 16, 2, 'chiral IPR', false);
latticeFig('figure-5-chiral-ipr-second-vs-spacing', 2015, 890, 2299, 1090, fig5Values, 5, 35, 5, 'chiral IPR', true);
coolingFig('figure-2-ordinary-ipr-vs-cooling', 2364, 47, 2647, 247, fig8Values, 5, 40, 5, 'ordinary IPR');
coolingFig('figure-3-chiral-ipr-vs-cooling', 2364, 328, 2647, 528, fig9Values, 5, 40, 5, 'chiral IPR');
coolingFig('figure-4-chiral-ipr-nonzero-vs-cooling', 2364, 609, 2647, 809, fig10Values, 0, 16, 2, 'chiral IPR');
coolingFig('figure-5-chiral-ipr-second-vs-cooling', 2364, 890, 2647, 1090, fig11Values, 5, 40, 5, 'chiral IPR');

// Fig 6: fractal dimension
(function () {
  const x0 = 3314, x1 = 3613, y0 = 92, y1 = 305;
  const g = mk('g', {});
  
  
  const sx = v => x0 + (v + 1) / 14 * (x1 - x0);
  const sy = v => y1 - (v - 1.5) / 3 * (y1 - y0);
  [1.5,2,2.5,3,3.5,4,4.5].forEach(v => {
    mk('line', {x1: x0, y1: sy(v), x2: x0 + 4, y2: sy(v), stroke: '#222'}, g);
    mk('line', {x1: x1, y1: sy(v), x2: x1 - 4, y2: sy(v), stroke: '#222'}, g);
    const t = txt(x0 - 4, sy(v) + 3.5, String(v), g, {'text-anchor': 'end'});
    
    
  });
  [0,2,4,6,8,10,12].forEach(v => {
    mk('line', {x1: sx(v), y1: y1, x2: sx(v), y2: y1 - 4, stroke: '#222'}, g);
    mk('line', {x1: sx(v), y1: y0, x2: sx(v), y2: y0 + 4, stroke: '#222'}, g);
    const t = txt(sx(v), y1 + 12, String(v), g, {'text-anchor': 'middle'});
    
    
  });
  const xl = txt((x0 + x1) / 2, y1 + 26, 'Number of cooling steps', g, {'text-anchor': 'middle'});
  
  
  const yl = txt(0, 0, 'Dimension', g, {'text-anchor': 'middle', transform: 'translate(' + (x0 - 26) + ',' + ((y0 + y1) / 2) + ') rotate(-90)'});
  
  
  const line = mk('polyline', {points: fig6Steps.map((s, i) => sx(s) + ',' + sy(fig6Dimension[i])).join(' '), fill: 'none', stroke: '#f08080', 'stroke-width': 1}, g);
  
  
  fig6Steps.forEach((s, i) => {
    const x = sx(s);
    mk('line', {x1: x, y1: sy(fig6Dimension[i] + fig6Error[i]), x2: x, y2: sy(fig6Dimension[i] - fig6Error[i]), stroke: '#222', 'stroke-width': 0.9}, g);
    mk('line', {x1: x - 3, y1: sy(fig6Dimension[i] + fig6Error[i]), x2: x + 3, y2: sy(fig6Dimension[i] + fig6Error[i]), stroke: '#222'}, g);
    mk('line', {x1: x - 3, y1: sy(fig6Dimension[i] - fig6Error[i]), x2: x + 3, y2: sy(fig6Dimension[i] - fig6Error[i]), stroke: '#222'}, g);
    const c = mk('circle', {cx: x, cy: sy(fig6Dimension[i]), r: 2.3, fill: '#000'}, g);
    
    
  });
  const lt = txt(x1 - 32, y0 + 13, 'Top. Charge', g, {'text-anchor': 'end', 'font-size': 9});
  
  
  mk('line', {x1: x1 - 28, y1: y0 + 10, x2: x1 - 10, y2: y0 + 10, stroke: '#222'}, g);
  mk('circle', {cx: x1 - 19, cy: y0 + 10, r: 2.2, fill: '#000'}, g);
  frame(g, x0, y0, x1, y1);
})();

// Fig 7: mean action
(function () {
  const x0 = 3850, x1 = 4142, y0 = 92, y1 = 305;
  const g = mk('g', {});
  
  
  const lmin = Math.log10(0.0021), lmax = Math.log10(1.96);
  const sx = v => x0 + v / 100 * (x1 - x0);
  const sy = v => y1 - (Math.log10(v) - lmin) / (lmax - lmin) * (y1 - y0);
  [['1', 1], ['0.1', 0.1], ['0.01', 0.01]].forEach(([s, v]) => {
    mk('line', {x1: x0, y1: sy(v), x2: x0 + 5, y2: sy(v), stroke: '#222'}, g);
    mk('line', {x1: x1, y1: sy(v), x2: x1 - 5, y2: sy(v), stroke: '#222'}, g);
    const t = txt(x0 - 6, sy(v) + 3.5, s, g, {'text-anchor': 'end'});
    
    
  });
  [0.003,0.004,0.005,0.006,0.007,0.008,0.009,0.02,0.03,0.04,0.05,0.06,0.07,0.08,0.09,0.2,0.3,0.4,0.5,0.6,0.7,0.8,0.9].forEach(v => {
    mk('line', {x1: x0, y1: sy(v), x2: x0 + 2.5, y2: sy(v), stroke: '#222'}, g);
    mk('line', {x1: x1, y1: sy(v), x2: x1 - 2.5, y2: sy(v), stroke: '#222'}, g);
  });
  [0,20,40,60,80,100].forEach(v => {
    mk('line', {x1: sx(v), y1: y1, x2: sx(v), y2: y1 - 5, stroke: '#222'}, g);
    mk('line', {x1: sx(v), y1: y0, x2: sx(v), y2: y0 + 5, stroke: '#222'}, g);
    const t = txt(sx(v), y1 + 12, String(v), g, {'text-anchor': 'middle'});
    
    
  });
  const xl = txt((x0 + x1) / 2, y1 + 26, 'Number of cooling steps', g, {'text-anchor': 'middle'});
  
  
  const yl = txt(0, 0, 'Mean action: S / S\u2080', g, {'text-anchor': 'middle', transform: 'translate(' + (x0 - 32) + ',' + ((y0 + y1) / 2) + ') rotate(-90)'});
  
  
  const series = [fig7Action12, fig7Action14, fig7Action15, fig7Action16, fig7Action18];
  const cols = ['#e03030', '#2020c0', '#10b010', '#000', '#999'];
  const dash = ['none', '1.5,1', '3,1.5', '1.5,1.5', '1,1.5'];
  const widths = [1.6, 1.3, 1.5, 1.3, 1];
  series.forEach((s, si) => {
    let d = '';
    // monotone cubic-like smoothing via catmull-rom in log space
    const pts = s.map((v, i) => [sx(fig7Steps[i]), sy(v)]);
    d = 'M' + pts[0][0] + ' ' + pts[0][1];
    for (let i = 0; i < pts.length - 1; i++) {
      const p0 = pts[Math.max(i - 1, 0)], p1 = pts[i], p2 = pts[i + 1], p3 = pts[Math.min(i + 2, pts.length - 1)];
      const c1 = [p1[0] + (p2[0] - p0[0]) / 6, p1[1] + (p2[1] - p0[1]) / 6];
      const c2 = [p2[0] - (p3[0] - p1[0]) / 6, p2[1] - (p3[1] - p1[1]) / 6];
      d += ' C' + c1.join(' ') + ' ' + c2.join(' ') + ' ' + p2.join(' ');
    }
    const p = mk('path', {d: d, fill: 'none', stroke: cols[si], 'stroke-width': widths[si], 'stroke-dasharray': dash[si]}, g);
    
    
    const ly = y0 + 20 + si * 10.5;
    const lt = txt(x1 - 62, ly + 3.5, latticeLabels[si], g, {'text-anchor': 'end', 'font-size': 9});
    
    
    txt(x1 - 62, ly - 1, '4', g, {'font-size': 6});
    mk('line', {x1: x1 - 54, y1: ly, x2: x1 - 26, y2: ly, stroke: cols[si], 'stroke-width': widths[si] + 0.6, 'stroke-dasharray': dash[si]}, g);
  });
  frame(g, x0, y0, x1, y1);
})();
</script>
</body></html>
